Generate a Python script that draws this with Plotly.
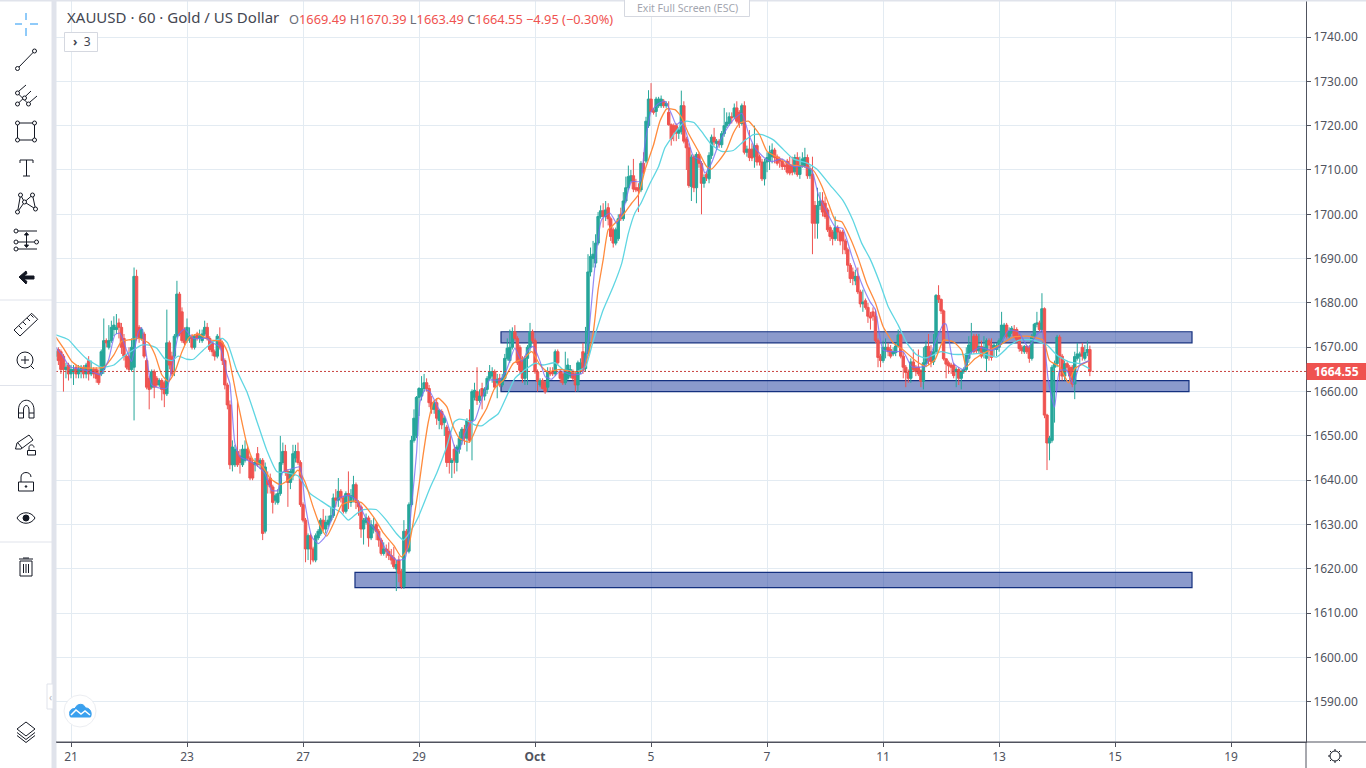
import plotly.graph_objects as go

# ---- hourly candles (oldest first) ----
opens = [
1668,1669.5,1669,1668,1665,1666,1664,1664.5,1665.5,1664,
1664.5,1665.5,1664,1667,1664,1665,1665,1664,1664,1665,
1671.5,1670,1671.5,1674,1674,1675.5,1674.5,1672,1668,1668,
1665,1665.5,1686,1674.5,1672,1673,1667,1663,1661,1664.5,
1663,1661.5,1662.5,1662,1659.5,1671,1668,1668,1672.5,1682,
1678,1674,1671.5,1672,1672.5,1670,1673,1672,1671.5,1673,
1674.5,1672,1671,1669,1668,1672,1671,1667,1661.5,1657,
1643.5,1643.5,1646.5,1645.5,1643.5,1644.5,1647,1645,1644,1643.5,
1646,1643.5,1644.5,1628.5,1640,1640.5,1638.5,1635.5,1635,1637,
1644,1646.5,1642,1639.5,1641,1645,1646.5,1644,1634.5,1631,
1624.5,1627.5,1624.5,1622,1627,1628,1631,1629,1630,1631,
1632,1636,1635.5,1637.5,1636,1633,1637,1635,1636,1639,
1635,1634,1629,1630.5,1631.5,1627,1629,1630,1628.5,1626.5,
1623.5,1624.5,1624,1623,1622.5,1620,1622,1619.5,1616,1628.5,
1624,1634.5,1649,1650,1658.7,1659,1660.7,1662,1660.7,1657.5,
1656,1657.5,1653.5,1655.5,1653,1652,1651,1644,1647,1644,
1647,1649,1651.5,1649.5,1653.5,1653.5,1658.7,1660,1658,1660.7,
1659,1660.5,1663,1663.5,1664.5,1662,1663,1661.5,1663,1667.5,
1667,1670,1673.5,1672,1670,1667.5,1663,1667.5,1670,1673.5,
1671.5,1664.5,1661.5,1662.5,1662,1661,1664.5,1664.5,1664,1669,
1664.5,1664,1662,1663,1663.5,1664.5,1664,1661.5,1665,1669,
1665.2,1668.6,1687,1690,1689,1693.5,1699.5,1700.8,1699.5,1701.5,
1699,1696.5,1693.5,1694.5,1700,1699,1703,1706,1707.5,1708.7,
1706,1706,1705.5,1711.5,1712,1720,1726,1723.5,1723.2,1724.5,
1724.5,1725.5,1724.5,1723,1720.2,1720,1720,1718.3,1718.7,1724.5,
1717,1715,1706.3,1713,1706,1713.5,1711.5,1707,1709,1708,
1713.3,1717.4,1716,1716.5,1715.7,1718.2,1720,1720.5,1722,1722,
1724,1723,1720.5,1724.5,1714,1714.7,1714.7,1713,1715.5,1713,
1711.8,1708,1711.8,1712,1713,1714.5,1713,1712.5,1712,1711,
1712,1711,1711,1709.6,1712.8,1709,1711,1711,1712.8,1708.7,
1709,1702,1698,1702,1703,1702.5,1701,1697,1696,1694.5,
1697,1696,1696,1694,1692,1688.5,1687,1685,1686,1682.5,
1679.8,1680.5,1679,1677,1678,1677,1671.5,1668,1667,1669.5,
1670,1669.5,1668.5,1668.8,1670.3,1672.8,1668,1665.5,1664.3,1663,
1666.7,1665.5,1665.5,1664.8,1662.3,1666.3,1670.2,1669,1666.7,1669,
1681.7,1680.8,1678.2,1667.4,1666.5,1666,1666,1664.5,1665,1663,
1664.5,1665,1667.5,1669,1672.5,1672.5,1669.2,1670.2,1669,1667.5,
1671.5,1670.5,1669.8,1669.5,1670,1671,1672.5,1675,1672.5,1673.5,
1674,1674,1672.5,1670,1669,1670.2,1670,1667.5,1672.5,1675.2,
1675.5,1674,1678.7,1654.7,1648.4,1649,1665.5,1666.3,1672.3,1668,
1663.5,1666.3,1665.5,1665.5,1661.7,1667.5,1668,1670,1667.5,1668.8,1669.49]
highs = [
1670,1670,1669.5,1668.5,1666.5,1666.5,1666,1666,1666,1666,
1666,1666,1666.5,1668,1667,1665.5,1665.5,1665,1669.5,1676.5,
1672,1675,1676,1677,1677.5,1676.5,1675.5,1673,1668.5,1670,
1672,1688,1687.5,1675,1674.5,1673.5,1667.5,1663.5,1665,1665,
1663.5,1663,1663,1662.5,1678.5,1671.5,1669,1673,1685,1682.5,
1679,1674.5,1676.5,1674.5,1673,1673,1673.5,1674,1674,1676,
1675.5,1672.5,1671.5,1669.5,1673,1674.5,1671.5,1667.5,1662,1658,
1649,1648,1658,1647,1648,1649,1648,1645.5,1645,1645,
1647.5,1645,1645,1644,1642,1641.5,1639,1637,1638,1650,
1648.5,1648,1642.5,1642.5,1648,1648,1648.5,1644.5,1635,1631.5,
1628,1628,1625,1628,1629,1631.5,1633.5,1632,1632,1634,
1637,1638,1640.5,1638,1636.5,1637.5,1642,1638,1641,1639.5,
1635.5,1634.5,1631.5,1632.5,1632,1631,1631.5,1630.5,1629,1627,
1626,1625.5,1626,1624.5,1625,1622,1623,1620,1631,1629,
1635,1650,1656,1659,1661,1663.5,1664,1663,1661.5,1659,
1658,1658.5,1656,1656,1654.5,1652.5,1651.5,1645,1648,1648,
1651,1652,1652.5,1654,1656,1660.5,1662,1665.5,1660.5,1662,
1661,1663.5,1666,1665.5,1665,1664,1664,1664,1668.5,1672,
1674,1674.5,1675,1672.5,1670.5,1668,1668,1670.5,1675.5,1674,
1672,1665,1663,1663,1662.5,1665.5,1665.5,1665.5,1669.5,1669.5,
1665,1664.5,1669,1667.5,1666,1665,1664.5,1667,1667.5,1671,
1674.6,1691,1692.5,1694,1695.5,1700.5,1702,1702.5,1703,1702.5,
1699.5,1697,1697,1700,1701.5,1705,1708.5,1711,1710,1712.5,
1708,1707,1712,1714,1722,1728,1729.6,1724,1726.5,1726.5,
1726.8,1726,1725.5,1725.5,1720.5,1720.5,1720.5,1719.5,1727.9,1725.5,
1717.5,1716,1713.5,1713.5,1714,1714,1712,1709,1709.5,1714,
1718,1719.5,1717,1717,1718.8,1724,1723,1723,1723,1725,
1725.5,1723.5,1725,1725.5,1715.5,1719,1716,1720,1716,1713.5,
1712.5,1712.5,1714,1715.5,1716,1715,1713.5,1713,1712.5,1711.5,
1712.5,1713,1713,1713.5,1714,1713,1714,1715,1713.5,1711,
1713,1703,1706,1705,1705,1704,1701.5,1697.5,1696.5,1699.5,
1697.5,1696.5,1696.5,1694.5,1692.5,1689,1688,1687.5,1688,1683,
1683,1681,1680,1678,1679,1678.5,1672,1668.5,1671.5,1672,
1671,1670.5,1670,1671,1674,1673,1669,1666,1665,1667.5,
1669.5,1666,1669.5,1665,1670,1671.5,1673,1670.5,1673,1682,
1684,1681,1678.5,1667.5,1667,1666.5,1666.5,1665.5,1665.5,1665,
1665.5,1670,1672.5,1675.5,1673,1673,1673,1671.5,1672.5,1672,
1672,1672,1671,1671,1672,1678,1675.5,1675.5,1674.5,1674.8,
1675,1674.5,1673,1670.5,1670.5,1670.5,1670.5,1673,1675.5,1678,
1676,1682.2,1679,1655,1650,1666,1667,1672.8,1672.8,1668.5,
1667,1666.8,1666,1666,1669,1671,1669,1671,1670.5,1671.5,1670.39]
lows = [
1667,1666,1664,1660,1663,1662.5,1663,1661.5,1663,1663,
1663,1663,1663,1662.5,1663.5,1663,1662,1661.5,1663.5,1664,
1670,1669.5,1671,1672.5,1673,1672,1668.5,1667,1665,1664.5,
1664.5,1653.5,1671.5,1671,1671.5,1667.5,1660.5,1656,1660.5,1658.5,
1661,1661,1658,1656.5,1659,1665,1663.5,1663.5,1672,1672.5,
1671,1670.5,1671,1671,1669.5,1669.5,1671.5,1671,1671,1672.5,
1671.5,1669,1668,1667,1667.5,1669.5,1666,1660.5,1656,1642.5,
1642,1643,1643,1641.5,1643,1644,1644.5,1640,1640,1642,
1643,1642.5,1626.5,1628,1637,1637,1632.5,1634.5,1634.5,1636.5,
1643.5,1641,1634,1638,1640,1644,1643.5,1634,1630.5,1621.5,
1622,1621,1621.5,1621.5,1626.5,1627.5,1628.5,1628,1629.5,1630.5,
1631.5,1634,1634,1635,1632.5,1632.5,1633.5,1634,1635,1633.5,
1632,1627,1625.5,1630,1625,1626.5,1628,1626.5,1625,1623,
1623,1622.5,1622,1621,1620,1615,1617,1615.5,1615.5,1623.5,
1623.5,1634,1648.5,1649.5,1654.5,1658,1660,1660,1656.5,1655,
1655,1652.5,1651.5,1651.5,1650,1643,1641.5,1640.5,1641.5,1642,
1646,1648,1648,1646.5,1648.5,1644.5,1658,1657,1657.5,1656,
1658,1659.5,1662.5,1662,1660.5,1658.5,1661,1661,1662.5,1667,
1666.5,1669.5,1671.5,1666,1664,1662,1661.5,1661.5,1669,1671,
1664,1660,1661,1660.5,1659.5,1660,1663.5,1663.5,1663.5,1666,
1662,1661.5,1661.5,1662.5,1663,1662.5,1660,1660,1664,1664,
1664.5,1668,1686,1688,1688,1693,1699,1697,1698.5,1697.5,
1694,1692.5,1693,1694,1698.5,1698.5,1702.5,1705.5,1707,1705,
1705,1700.5,1705,1709,1711.5,1719.5,1723,1722.5,1722,1724,
1724,1724,1724,1720,1715.5,1716.5,1716.5,1717,1718,1716,
1710,1706,1703,1705,1702.5,1710.5,1700,1706,1707.5,1707,
1712.5,1715.5,1714.5,1715,1715,1717.5,1719.5,1720,1720.5,1721.5,
1720.5,1719.5,1720,1713.5,1713,1712,1712,1710.5,1711,1711,
1707.5,1706.5,1709.5,1710,1711.5,1711.5,1711,1710.5,1710,1710,
1709,1708.8,1708.8,1709,1708.5,1708,1710.5,1710.5,1708,1708,
1691,1694.5,1694.5,1701,1699.5,1699,1696,1694,1693,1694,
1694,1693,1691,1691,1687,1684.5,1684,1684,1682,1679,
1678,1678.5,1675.5,1674,1676,1671,1665.5,1665.5,1666.5,1667.5,
1668,1667.5,1668,1668,1670,1667.5,1663,1661,1662,1662,
1664.5,1663.5,1663.5,1661,1660.5,1665.5,1666,1665.5,1666,1668.5,
1680,1677.5,1667,1663,1664,1664,1663,1661,1661.5,1660.5,
1664,1664.5,1666.5,1668.5,1668.5,1668.5,1668.5,1667.5,1667.5,1664.5,
1667,1667,1668,1668,1669,1670.5,1672,1672,1672,1673,
1672,1671,1669,1668.5,1668.5,1668.5,1666.5,1667,1672,1674.5,
1673.5,1673.5,1654,1642.3,1644.5,1648.5,1653,1665.5,1662.5,1662.5,
1662.5,1664.5,1662.5,1661,1658.3,1667,1666.5,1667,1667,1668,1663.49]
closes = [
1669,1667,1665,1665,1665.5,1664,1665,1665,1664,1665,
1665.5,1664,1666,1664,1665,1664,1663,1662,1669,1671.5,
1671,1671.5,1674.5,1675,1674.5,1674.5,1670,1668,1665.5,1665,
1670,1686,1672.5,1672,1674,1668,1661,1660.5,1664.5,1661,
1661.5,1662.5,1660.5,1659.5,1671,1666,1664,1672.5,1682,1673,
1671.5,1671,1674.5,1672.5,1670,1672.5,1672,1672.5,1673,1674.5,
1672,1669.5,1669,1668,1672.5,1670,1667,1661.5,1657,1643.5,
1647.5,1647,1643.5,1644,1647,1647,1645,1640.5,1640.5,1644,
1643.5,1644.5,1628,1643,1639,1638.5,1635,1636.5,1637,1644,
1646.5,1642,1639.5,1642,1646,1646.5,1644,1634.5,1631,1624.5,
1627.5,1624.5,1622,1627.5,1628.5,1631,1629,1630.5,1631,1632,
1636,1635.5,1637.5,1636,1633,1637,1636.5,1636.5,1639,1635,
1634,1629,1631,1631.5,1627,1630,1629.5,1628.5,1626.5,1623.5,
1624.5,1624,1623,1622,1620.5,1621,1619,1616,1628.5,1624,
1634.5,1649,1654,1658.7,1660.7,1660.7,1662,1660.7,1657.5,1656,
1657.5,1654,1655.8,1652.5,1654,1644,1644,1644.5,1644.5,1647.5,
1649.5,1651.5,1649.5,1653.5,1649,1660,1660.3,1658,1659,1659,
1660.5,1663,1664.5,1664.5,1661,1662.8,1661.5,1663,1667.5,1669.8,
1670,1673.5,1672,1666.5,1664.8,1663,1667.5,1670,1673.5,1671.5,
1664.5,1662.3,1662.5,1660.7,1660,1664.5,1664,1664,1669,1666.5,
1663,1662,1665,1666,1665,1663,1661.5,1666.5,1666.5,1664.8,
1668.6,1687,1690.5,1691,1693.5,1699.5,1700.8,1699.5,1701,1699,
1695,1693.5,1696.5,1699,1699,1703,1706,1708.5,1708.7,1705.7,
1705.5,1705.3,1711.5,1709.5,1721,1726,1723.2,1723,1726,1726,
1726,1724.5,1725,1720.2,1717,1718.5,1718.3,1719,1724.5,1716.5,
1715,1706.5,1712.9,1706,1713.5,1711.5,1707,1708.3,1708.3,1713.3,
1717.4,1716.3,1716.5,1715.7,1718.2,1720,1720.8,1722,1721.8,1724,
1721,1720.5,1724.5,1714,1714.7,1712.8,1712.7,1715.5,1711.8,1711.8,
1708,1711.8,1712.8,1714,1714.5,1712.8,1711.5,1712,1710.8,1710.8,
1709.5,1709.3,1709.5,1712.8,1709,1711,1712.5,1712.8,1708.7,1710.3,
1698,1698,1702,1703,1700.5,1699.5,1696.5,1695,1694.5,1697,
1696,1694,1694,1692,1688.5,1685.5,1685.5,1686,1682.5,1679.8,
1680.2,1679,1677,1676.6,1677,1671.5,1667.7,1667,1670,1670,
1669,1668,1669,1670.3,1672.8,1668,1665.5,1664.3,1663,1666.7,
1665,1664.5,1664,1662.3,1666.5,1670.2,1667,1666.7,1669,1681.7,
1680.8,1678.2,1667.4,1666.2,1665.8,1665.5,1663.6,1665,1663,1664.5,
1665,1668.5,1670.5,1671,1669,1669.2,1670.2,1668,1670,1671.5,
1670.5,1667.7,1670.5,1670.3,1671.5,1675,1675,1672.5,1673.5,1674.3,
1672.5,1671.8,1669.7,1669.2,1670.2,1669,1667.5,1672.5,1675.2,1675.5,
1674,1678.7,1654.7,1648.4,1649.5,1665.5,1666.3,1672.3,1668,1663.5,
1666.3,1665.5,1663.5,1661.7,1667.9,1668.5,1668.5,1668,1668.8,1669.5,1664.55]

LAST_BAR = 404
bars = list(range(LAST_BAR - len(closes) + 1, LAST_BAR + 1))

# ---- moving averages, read at the bars listed ----
cyan_x = [-6,-1,2,6,12,17,21,25,28,31,34,37,40,42.5,46,48.5,52.5,56.5,60,62,65.7,69.7,73.6,77.6,81.6,85.5,90,94.8,98.7,102.7,106.7,110,113.3,116,121,125,129,131.8,134.4,137.7,142.3,145,149,152,154,157,160,163,166,169.4,172.7,176,180,184,187,192,195,200.5,204,207,211,215,218.4,221,223.6,226,229.6,233,235.5,239,242,244,247,250,254,258,262.6,266.6,270.5,274,278.5,282.5,286.4,291.7,295.7,301,306,310,313.5,316.8,320.8,324,328,331.4,335.3,339,345,350,355,361,367,372.4,376,381,387,391,395.8,400,403.8]
cyan_y = [1672.8,1671.7,1669.8,1667.5,1665.5,1666,1668,1669.5,1670.5,1670.5,1669.8,1667.5,1667,1668,1667.3,1667.3,1669.4,1671.3,1672,1671,1664.8,1660,1653.5,1646.8,1642,1641.7,1641,1637,1635.5,1634,1632.9,1631,1632.5,1633.4,1633.4,1631,1628,1626.5,1628.3,1631.7,1638.2,1641.6,1647.6,1653.2,1653.8,1653.5,1652.5,1652.3,1653.6,1655,1658.9,1663,1664.9,1666.4,1666,1666.5,1665,1664.5,1665.6,1671.3,1678.4,1683.7,1689,1695.7,1700.3,1702.5,1707,1710.8,1715,1718,1720.2,1721,1720.7,1718.7,1715.7,1714.2,1714.4,1716.4,1718,1718,1716.8,1714.6,1712.5,1711.6,1710.2,1706.6,1703.2,1698.7,1693.5,1690,1684.4,1679.2,1675,1671,1668.3,1667.6,1669,1668.4,1668.4,1668.6,1667.8,1670.5,1671.6,1671.7,1670.5,1668.2,1666.7,1666.3,1665.2]
orange_x = [-6,-3,0.3,3.5,9,13,17,20,23.4,26.7,30.7,33.3,36,38.6,41.2,44,47,50.5,54.5,59.7,62,65.7,69.7,72.3,75.6,79,83,87,90,92.8,96,98.7,101.4,104.7,107.3,111.3,115,120,124,128,131,133.8,137.7,139.7,141.7,143.7,145.7,149,151.6,154,158,161.5,164.8,168,171.5,175.4,179.4,182.7,186,189,194,199,203,207,209,211,213,215,219,222.3,225,227.6,231,233.5,236.2,239.5,242,244.8,248.8,252,254,256.7,260,262.6,265.3,268.6,273,276,280,285,290.4,294.5,297.7,300.5,303,305.6,309,312.2,315.5,319,322,326,330,335.3,339,342.6,346,350,353.2,355,358.4,363,368.3,373.6,379,385.5,388,392,395.5,398,401.4,403.8]
orange_y = [1672.3,1669.8,1666.8,1665.5,1665.3,1665.5,1668.3,1671.3,1671.7,1672,1671,1668.3,1663.8,1662.3,1664.5,1669,1672.3,1673,1671.7,1671.3,1669,1658.8,1648.3,1644.5,1643.4,1640.4,1639,1640.4,1642.3,1639.6,1634,1629.8,1627.4,1631,1634.4,1635.3,1635,1631.7,1628,1625.3,1622.7,1625,1637.8,1646,1653.2,1657.7,1658.5,1656.6,1652,1649.5,1648.6,1652.9,1656.2,1660.8,1662.6,1666.4,1667.5,1669,1666,1664.5,1665,1664.5,1664.9,1673.1,1683,1689.7,1696.5,1697.6,1699.9,1702.5,1704.4,1710,1715.7,1721,1723.8,1723.6,1722,1718.3,1714.2,1710.8,1710.2,1711.9,1714.6,1718.3,1720.6,1721,1718,1714.2,1712.9,1711.2,1710.8,1709.8,1706.4,1702.2,1698.7,1698.3,1694.6,1690,1684.4,1680,1674.7,1671,1669.4,1666.8,1665.7,1667.2,1671.6,1671.2,1669.3,1665.6,1667.4,1669,1670.5,1672.3,1672.5,1671.6,1667,1665.6,1662,1665.2,1666.3,1667]
blue_x = [-6,-3.6,-0.4,5,9,11.5,14.8,17.4,19.4,22,24,26.7,28,30,32,35.3,38,40.6,42.6,45,48.5,53.8,56.4,59,61.7,63,65,67,70,73.6,76.9,79.6,82,84,87.5,90.8,92.8,95.5,98,100.7,103.4,106,110,113.3,117.3,121.3,125,129,132.4,135,137,138.4,140.4,142.3,145.7,148.3,150.3,152.3,153.6,156.2,158.2,160.2,162.8,166,170,172.7,176,178.7,181.3,183.3,186,188,190.6,194,198,202.5,204.5,206.4,208.4,210.4,213.7,216.4,219,222.3,225.6,227.6,230,233,235.5,238,240,242,244,246.8,249.4,251.4,254,256.7,259,262.6,266,268.6,271.2,275,277.8,281.8,286.4,290.4,293.7,296.3,300,303,306,309.5,313.5,316.8,319,322,326,330,333.4,338.7,343,346,347,350,354,356.5,360.4,365,367.7,371.7,375.6,379.6,382.2,385,387.5,390,392,394.8,397.4,400,403.8]
blue_y = [1670,1668.3,1665.6,1664.9,1664.3,1663.8,1667,1672.8,1673.2,1669.4,1666.8,1673.5,1674.4,1667.9,1661.5,1660.8,1660.8,1667.1,1672.8,1674.1,1672,1672,1670.9,1670.2,1664.1,1661.8,1648.3,1645.3,1644.5,1643.4,1641.5,1637.7,1637.7,1641.9,1642.6,1643,1634.7,1627.2,1625.7,1627.2,1631.4,1635.9,1636.6,1635.5,1631,1628.3,1624.2,1622,1622.3,1634,1646,1657.7,1660.4,1660,1656.2,1654.4,1651,1647.2,1646.5,1650.6,1652.9,1653.6,1658.1,1662.6,1662.6,1664.9,1669.8,1666.8,1669.4,1670.2,1666.8,1663.4,1662.8,1664.7,1663.8,1664.1,1668.6,1680,1692,1698.8,1700.3,1698,1701,1707.4,1707.4,1716,1723.2,1725,1725.5,1722.8,1720.2,1721,1718.3,1713,1712.3,1709.3,1711.6,1715.7,1718.3,1721.3,1722.8,1718.3,1715,1712.7,1711.9,1712.5,1710.8,1710.8,1710,1704.5,1700.2,1697.2,1696.8,1690.8,1684.4,1680.3,1678.4,1669.4,1669,1669,1665.6,1665.8,1671.6,1675.3,1675.2,1666.3,1665,1668.6,1670,1669.3,1670,1673.8,1673.5,1670,1672.3,1673.8,1662.6,1656.5,1664.8,1664.8,1661.8,1666,1667]

# ---- support / resistance zones: first bar, last bar, low, high ----
zone_x0 = [170.5, 170.5, 112.6]
zone_x1 = [444.5, 443.3, 444.5]
zone_lo = [1671.0, 1660.0, 1615.8]
zone_hi = [1673.5, 1662.5, 1619.2]

# ---- axes and labels ----
tick_bars = [0, 46, 92, 138, 184, 230, 276, 322, 368, 414, 460]
tick_labels = ["21", "23", "27", "29", "<b>Oct</b>", "5", "7", "11", "13", "15", "19"]
price_ticks = list(range(1590, 1750, 10))
LAST_PRICE = 1664.55

UP, DOWN = "#26a69a", "#ef5350"
AXIS, GRID, INK = "#50535e", "#e3ebf2", "#131722"
FONT = "Noto Sans"

fig = go.Figure()
# zones as bars: they sit above the grid and below the candles
fig.add_trace(go.Bar(
    x=[(a + b) / 2 for a, b in zip(zone_x0, zone_x1)],
    width=[b - a for a, b in zip(zone_x0, zone_x1)],
    base=zone_lo, y=[h - l for h, l in zip(zone_hi, zone_lo)],
    marker=dict(color="rgba(23,53,153,0.5)", line=dict(color="#14307f", width=1.2)),
    showlegend=False, hoverinfo="skip"))
fig.add_trace(go.Candlestick(
    x=bars, open=opens, high=highs, low=lows, close=closes, whiskerwidth=0,
    increasing=dict(line=dict(color=UP, width=1), fillcolor=UP),
    decreasing=dict(line=dict(color=DOWN, width=1), fillcolor=DOWN),
    showlegend=False, hoverinfo="skip"))
for xs, ys, col, w, op in [(cyan_x, cyan_y, "#5fd6e2", 1.3, 1), (orange_x, orange_y, "#ff8b3d", 1.3, 1), (blue_x, blue_y, "#7a6ff5", 1.2, 0.8)]:
    fig.add_trace(go.Scatter(x=xs, y=ys, mode="lines", opacity=op,
                             line=dict(color=col, width=w, shape="spline", smoothing=0.5),
                             showlegend=False, hoverinfo="skip"))

shapes = []
shapes.append(dict(type="line", xref="x domain", yref="y", x0=0, x1=1, y0=LAST_PRICE, y1=LAST_PRICE,
                   line=dict(color="#c8403d", width=1, dash="2px,2px")))

# ---- interface furniture, in page pixels on a hidden full-page axis pair ----
def _s(**k):
    k.update(xref="x2", yref="y2")
    shapes.append(k)
def L(x0, y0, x1, y1, c=INK, w=1):
    _s(type="line", x0=x0, y0=y0, x1=x1, y1=y1, line=dict(color=c, width=w))
def C(x, y, r, c=INK, fill="white", w=1):
    _s(type="circle", x0=x-r, x1=x+r, y0=y-r, y1=y+r, line=dict(color=c, width=w), fillcolor=fill)
def R(x0, y0, x1, y1, fill, c=None, w=1):
    _s(type="rect", x0=x0, y0=y0, x1=x1, y1=y1, fillcolor=fill, line=dict(color=c or fill, width=w))
def P(d, c=INK, fill=None, w=1):
    s = dict(type="path", path=d, line=dict(color=c, width=w))
    if fill: s["fillcolor"] = fill
    _s(**s)

R(52, 0, 56, 768, "#e0e3eb")
R(0, 0, 1366, 1, "#e0e3eb")
L(1306, 742, 1306, 768, AXIS)
L(56, 742, 1366, 742, AXIS)
L(0, 300, 52, 300, "#e0e3eb"); L(0, 385.5, 52, 385.5, "#e0e3eb"); L(0, 542, 52, 542, "#e0e3eb")
# crosshair
for a in [(15, 24, 22, 24), (30, 24, 38, 24), (26, 13, 26, 20), (26, 28, 26, 36)]:
    L(*a, c="#2196f3")
# trend line
L(18, 68, 34.5, 51); C(17.5, 68.5, 2, ); C(34.5, 51, 2)
# pitchfork
L(17.5, 93, 28.5, 104); L(17.5, 104, 31, 91); L(19, 91, 26, 85); L(30, 102, 37, 96)
C(17.5, 93, 2); C(17.5, 104, 2); C(28.5, 104, 2); C(24.5, 98, 2)
# rectangle
L(17.5, 123, 34.5, 123); L(17.5, 140, 34.5, 140); L(17.5, 123, 17.5, 140); L(34.5, 123, 34.5, 140)
for cx, cy in [(17.5, 123), (34.5, 123), (17.5, 140), (34.5, 140)]:
    C(cx, cy, 2)
# text tool
L(20, 160, 33, 160); L(26.5, 160, 26.5, 176); L(23, 176, 30, 176); L(20, 160, 20, 163); L(33, 160, 33, 163)
# patterns
P("M17.5,212 L20.5,195 L24.5,202 L32.5,195 L35.5,209 L24.5,202 L17.5,212")
for cx, cy in [(20.5, 195), (32.5, 195), (24.5, 202), (35.5, 209), (17.5, 212)]:
    C(cx, cy, 2)
# prediction tool
L(17, 231, 37, 231); L(17, 242, 34, 242); L(17, 249, 37, 249); L(26.5, 233, 26.5, 247)
for cx, cy in [(16, 231), (16, 242), (36.5, 242), (16, 249)]:
    C(cx, cy, 2)
P("M24.5,235 L26.5,232.5 L28.5,235 Z M24.5,245 L26.5,247.5 L28.5,245 Z", fill=INK)
# back arrow
P("M19,277 L26,271 L27,273.5 L24,276 L34,276 L34,279 L24,279 L27,281.5 L26,284 Z", fill=INK, w=1)
# ruler
P("M14,330 L31.7,313.3 L37.7,319.3 L20,336 Z")
for a in [(19, 326, 22, 329), (23, 322, 26, 325), (27, 318, 30, 321), (31, 315, 33.5, 317.5)]:
    L(*a)
# zoom
C(25, 360, 8); L(31, 366, 34, 369); L(21, 360, 29, 360); L(25, 356, 25, 364)
# magnet
P("M18.5,418 L18.5,410 C18.5,397 34,397 34,410 L34,418 L29,418 L29,410 C29,404 23.5,404 23.5,410 L23.5,418 Z")
L(18.5, 413, 23.5, 413); L(29, 413, 34, 413)
# pencil + small lock
P("M15.5,449 L17,443 L29,435 L33,440 L21,449 Z"); L(18, 443, 22, 448)
R(27.5, 450.5, 35.5, 455, "white", INK)
P("M29,450.5 L29,447.5 C29,444 34,444 34,447.5")
# lock
_s(type="rect", x0=18.5, x1=33.5, y0=482, y1=491, line=dict(color=INK, width=1), fillcolor="white")
P("M21,482 L21,477 C21,471 31,471 31,477")
C(26, 486.5, 0.8, fill=INK)
# eye
P("M17,518 C21,511 31,511 35,518 C31,525 21,525 17,518 Z"); C(26, 518, 3, fill=INK)
# trash
L(19, 559, 33, 559); R(20, 561, 32, 576, "white", INK); L(23, 558, 29, 558)
L(23.5, 564, 23.5, 573); L(26, 564, 26, 573); L(28.5, 564, 28.5, 573)
# layers
P("M17,729 L26,722 L35,729 L26,736 Z"); P("M17,732.5 L26,739.5 L35,732.5"); P("M17,735.5 L26,742.5 L35,735.5")
# collapse tab and logo
R(47, 684, 53, 709, "white", "#e0e3eb")
C(80, 711, 16, c="#eceef2", fill="white")
P("M70.5,717 C68,712 71,708 75,708.5 C77,703 84,703 85.5,708 C90,707.5 92.5,713 90.5,717 Z", c="#3aa0ee", fill="#3aa0ee")
P("M71,715 L76,710 L81,714 L85,711 L90,715", c="white", w=1.5)
# settings gear
C(1335, 756, 5); L(1335, 749, 1335, 751); L(1335, 761, 1335, 763); L(1328, 756, 1330, 756); L(1340, 756, 1342, 756)
L(1330, 751, 1331.5, 752.5); L(1338.5, 759.5, 1340, 761); L(1340, 751, 1338.5, 752.5); L(1331.5, 759.5, 1330, 761)
# header boxes
_s(type="rect", x0=64.5, x1=97.5, y0=32.5, y1=51.5, line=dict(color="#d5d8e0", width=1), fillcolor="white")
_s(type="rect", x0=624.5, x1=749.5, y0=-3, y1=16.5, line=dict(color="#d5d8e0", width=1), fillcolor="white")
# last price tag
R(1307, 363.5, 1366, 379.5, DOWN)

def T(x, y, text, size=12, color=AXIS, anchor="left"):
    return dict(xref="x2", yref="y2", x=x, y=y, text=text, showarrow=False, xanchor=anchor, yanchor="middle",
                font=dict(family=FONT, size=size, color=color))

num = lambda s: f'<span style="color:{DOWN}">{s}</span>'
annotations = [
    T(65, 17, "XAUUSD · 60 · Gold / US Dollar", 15, "#434651"),
    T(287, 18.5, "O" + num("1669.49") + " H" + num("1670.39") + " L" + num("1663.49") + " C" + num("1664.55") + " " + num("−4.95 (−0.30%)"), 12.8, "#6a6d78"),
    T(71, 41.5, "<b>›</b>  3", 12, "#434651"),
    T(687, 8, "Exit Full Screen (ESC)", 10.5, "#a3a6af", "center"),
    T(50, 697, "‹", 10, "#b2b5be", "center"),
    T(1336.5, 371.5, "<b>1664.55</b>", 12, "white", "center"),
]

fig.update_layout(
    width=1366, height=768, autosize=False, margin=dict(l=0, r=0, t=0, b=0),
    paper_bgcolor="white", plot_bgcolor="rgba(0,0,0,0)", boxgap=0.0, boxgroupgap=0.05, barmode="overlay",
    font=dict(family=FONT, size=12, color=AXIS),
    xaxis=dict(domain=[56/1366, 1306/1366], range=[-5.95, 489.7], anchor="y",
               tickmode="array", tickvals=tick_bars, ticktext=tick_labels, rangeslider=dict(visible=False),
               showgrid=True, gridcolor=GRID, gridwidth=1, zeroline=False, showline=True, linecolor=AXIS,
               ticks="outside", ticklen=4, tickcolor=AXIS, tickfont=dict(size=12, color=AXIS)),
    yaxis=dict(domain=[26/768, 1], range=[1580.95, 1748.35], anchor="x", side="right",
               tickmode="array", tickvals=price_ticks, tickformat=".2f",
               showgrid=True, gridcolor=GRID, gridwidth=1, zeroline=False, showline=True, linecolor=AXIS,
               ticks="outside", ticklen=4, tickcolor=AXIS, tickfont=dict(size=12, color=AXIS)),
    xaxis2=dict(domain=[0, 1], range=[0, 1366], anchor="y2", visible=False, fixedrange=True),
    yaxis2=dict(domain=[0, 1], range=[768, 0], anchor="x2", visible=False, fixedrange=True),
    shapes=shapes, annotations=annotations, showlegend=False, hovermode=False,
)
fig.write_html("out.html", config=dict(displayModeBar=False),
               post_script="document.body.style.margin='0';document.body.style.overflow='hidden';")
